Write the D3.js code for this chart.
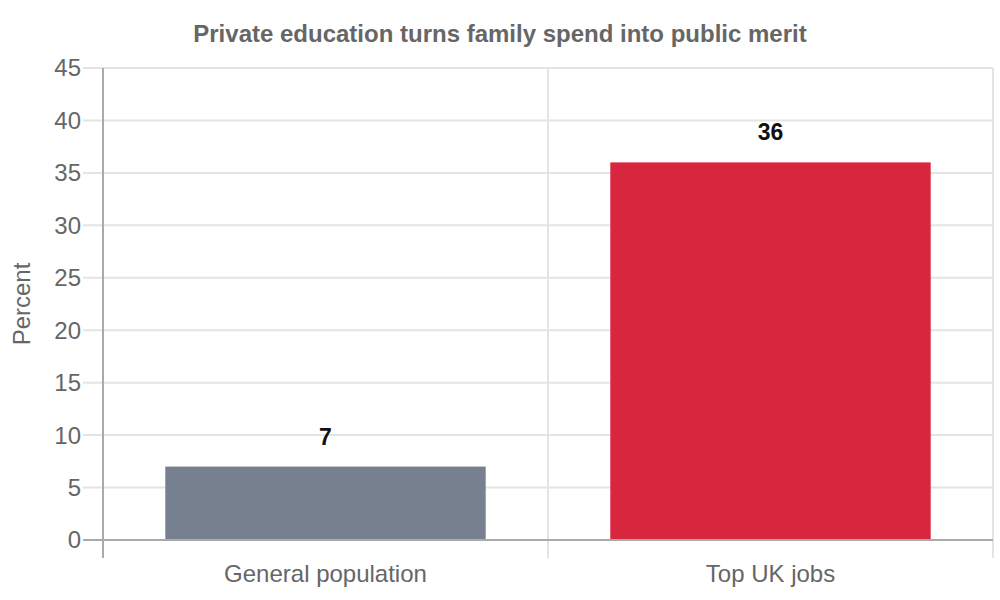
<!DOCTYPE html>
<html>
<head>
<meta charset="utf-8">
<script src="https://cdn.jsdelivr.net/npm/d3@7"></script>
<style>
  body { margin: 0; background: #fff; }
  text { font-family: "Liberation Sans", Arial, sans-serif; }
</style>
</head>
<body>
<svg id="chart" width="1000" height="600"></svg>
<script>
var categories = ['General population', 'Top UK jobs'];
var values = [7, 36];
var barColors = ['#77808f', '#d9263f'];
var yTicks = [0, 5, 10, 15, 20, 25, 30, 35, 40, 45];

var margin = {left: 103, right: 7, top: 68, bottom: 60};
var width = 1000, height = 600;

var svg = d3.select('#chart');

var x = d3.scaleBand()
    .domain(categories)
    .range([margin.left, width - margin.right]);

var y = d3.scaleLinear()
    .domain([0, 45])
    .range([height - margin.bottom, margin.top]);

// horizontal grid
svg.append('g')
    .selectAll('line.hgrid')
    .data(yTicks)
    .enter().append('line')
        .attr('class', 'hgrid')
        .attr('x1', margin.left - 20)
        .attr('x2', width - margin.right)
        .attr('y1', d => y(d))
        .attr('y2', d => y(d))
        .attr('stroke', d => d === 0 ? '#aaaaaa' : '#e4e4e4')
        .attr('stroke-width', 2);

// vertical grid at category boundaries
var bounds = categories.map(c => x(c)).concat([x.range()[1]]);
svg.append('g')
    .selectAll('line.vgrid')
    .data(bounds)
    .enter().append('line')
        .attr('x1', d => d)
        .attr('x2', d => d)
        .attr('y1', margin.top)
        .attr('y2', height - margin.bottom + 18)
        .attr('stroke', (d, i) => i === 0 ? '#aaaaaa' : '#e4e4e4')
        .attr('stroke-width', 2);

// y tick labels
svg.append('g')
    .selectAll('text.ytick')
    .data(yTicks)
    .enter().append('text')
        .attr('x', margin.left - 22)
        .attr('y', d => y(d))
        .attr('dy', '0.35em')
        .attr('text-anchor', 'end')
        .attr('fill', '#666')
        .style('font-size', '24px')
        .text(d => d);

// bars
var inner = x.bandwidth() * 0.72;
svg.append('g')
    .selectAll('rect')
    .data(values)
    .enter().append('rect')
        .attr('x', (d, i) => x(categories[i]) + (x.bandwidth() - inner) / 2)
        .attr('width', inner)
        .attr('y', d => y(d))
        .attr('height', d => y(0) - y(d))
        .attr('fill', (d, i) => barColors[i]);

// redraw zero line over bars
svg.append('line')
    .attr('x1', margin.left)
    .attr('x2', width - margin.right)
    .attr('y1', y(0))
    .attr('y2', y(0))
    .attr('stroke', '#aaaaaa')
    .attr('stroke-width', 2);

// value labels
svg.append('g')
    .selectAll('text.val')
    .data(values)
    .enter().append('text')
        .attr('x', (d, i) => x(categories[i]) + x.bandwidth() / 2)
        .attr('y', d => y(d) - 22)
        .attr('text-anchor', 'middle')
        .attr('fill', '#111')
        .style('font-size', '23px')
        .style('font-weight', 'bold')
        .text(d => d);

// x labels
svg.append('g')
    .selectAll('text.xlab')
    .data(categories)
    .enter().append('text')
        .attr('x', d => x(d) + x.bandwidth() / 2)
        .attr('y', 582)
        .attr('text-anchor', 'middle')
        .attr('fill', '#666')
        .style('font-size', '24px')
        .text(d => d);

// y axis title
svg.append('text')
    .attr('transform', 'translate(30,' + ((margin.top + height - margin.bottom) / 2) + ') rotate(-90)')
    .attr('text-anchor', 'middle')
    .attr('fill', '#666')
    .style('font-size', '24px')
    .text('Percent');

// title
svg.append('text')
    .attr('x', 500)
    .attr('y', 42)
    .attr('text-anchor', 'middle')
    .attr('fill', '#666')
    .style('font-size', '24px')
    .style('font-weight', 'bold')
    .text('Private education turns family spend into public merit');
</script>
</body>
</html>
